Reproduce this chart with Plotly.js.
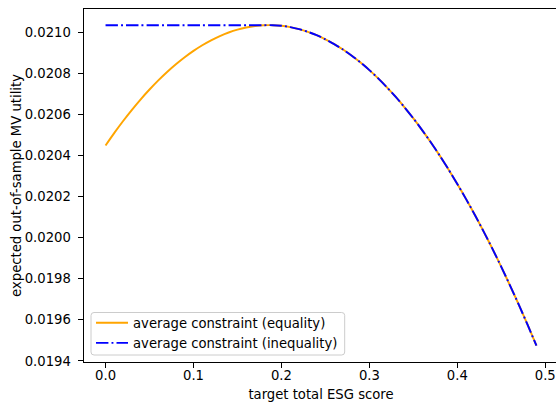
<!DOCTYPE html>
<html>
<head>
<meta charset="utf-8">
<script src="https://cdn.plot.ly/plotly-3.0.1.min.js"></script>
<style>
html,body{margin:0;padding:0;overflow:hidden;background:#fff;}
#chart{width:560px;height:402px;}
</style>
</head>
<body>
<div id="chart"></div>
<script>
// target total ESG score
const esgTarget = [0.00,0.01,0.02,0.03,0.04,0.05,0.06,0.07,0.08,0.09,
  0.10,0.11,0.12,0.13,0.14,0.15,0.16,0.17,0.18,0.19,
  0.20,0.21,0.22,0.23,0.24,0.25,0.26,0.27,0.28,0.29,
  0.30,0.31,0.32,0.33,0.34,0.35,0.36,0.37,0.38,0.39,
  0.40,0.41,0.42,0.43,0.44,0.45,0.46,0.47,0.48,0.49];

// expected out-of-sample MV utility, average constraint (equality)
const utilityEquality = [0.020449,0.0205103,0.0205682,0.0206227,0.0206738,0.0207215,0.0207659,0.0208068,0.0208444,0.0208786,
  0.0209095,0.0209369,0.0209610,0.0209817,0.0209990,0.0210129,0.0210234,0.0210306,0.0210344,0.0210348,
  0.0210318,0.0210254,0.0210156,0.0210025,0.0209860,0.0209661,0.0209428,0.0209161,0.0208861,0.0208527,
  0.0208159,0.0207757,0.0207321,0.0206852,0.0206348,0.0205811,0.0205240,0.0204635,0.0203997,0.0203324,
  0.0202618,0.0201878,0.0201104,0.0200296,0.0199455,0.0198579,0.0197670,0.0196727,0.0195750,0.0194740];

// expected out-of-sample MV utility, average constraint (inequality)
const utilityInequality = [0.0210348,0.0210348,0.0210348,0.0210348,0.0210348,0.0210348,0.0210348,0.0210348,0.0210348,0.0210348,
  0.0210348,0.0210348,0.0210348,0.0210348,0.0210348,0.0210348,0.0210348,0.0210348,0.0210348,0.0210348,
  0.0210318,0.0210254,0.0210156,0.0210025,0.0209860,0.0209661,0.0209428,0.0209161,0.0208861,0.0208527,
  0.0208159,0.0207757,0.0207321,0.0206852,0.0206348,0.0205811,0.0205240,0.0204635,0.0203997,0.0203324,
  0.0202618,0.0201878,0.0201104,0.0200296,0.0199455,0.0198579,0.0197670,0.0196727,0.0195750,0.0194740];

const xTickVals = [0.0,0.1,0.2,0.3,0.4,0.5];
const xTickText = ['0.0','0.1','0.2','0.3','0.4','0.5'];
const yTickVals = [0.0194,0.0196,0.0198,0.0200,0.0202,0.0204,0.0206,0.0208,0.0210];
const yTickText = ['0.0194','0.0196','0.0198','0.0200','0.0202','0.0204','0.0206','0.0208','0.0210'];

const FONT = 'DejaVu Sans, sans-serif';
const FS = 13.2;

const traces = [
  {x: esgTarget, y: utilityEquality, type: 'scatter', mode: 'lines',
   name: 'average constraint (equality)',
   line: {color: '#FFA500', width: 1.95, shape: 'spline', smoothing: 0.6}},
  {x: esgTarget, y: utilityInequality, type: 'scatter', mode: 'lines',
   name: 'average constraint (inequality)',
   line: {color: '#0000FF', width: 1.95, dash: '12.4px,3.1px,1.9px,3.1px', shape: 'spline', smoothing: 0.6}}
];

const axisCommon = {
  showgrid: false, zeroline: false, showline: true, mirror: true,
  linecolor: '#000', linewidth: 1.03,
  ticks: 'outside', ticklen: 4.5, tickwidth: 1.03, tickcolor: '#000',
  tickfont: {family: FONT, size: FS, color: '#000'},
  tickmode: 'array'
};

// rounded legend frame (paper coordinates of plot area)
const lx0 = 0.0148, lx1 = 0.5500, ly0 = 0.0198, ly1 = 0.1402, rx = 0.0063, ry = 0.0085;
const legendFrame = `M${lx0+rx},${ly0} L${lx1-rx},${ly0} Q${lx1},${ly0} ${lx1},${ly0+ry} L${lx1},${ly1-ry} Q${lx1},${ly1} ${lx1-rx},${ly1} L${lx0+rx},${ly1} Q${lx0},${ly1} ${lx0},${ly1-ry} L${lx0},${ly0+ry} Q${lx0},${ly0} ${lx0+rx},${ly0} Z`;

const layout = {
  width: 560, height: 402,
  margin: {l: 84, r: 1.5, t: 9, b: 40, pad: 0},
  paper_bgcolor: '#fff', plot_bgcolor: '#fff',
  font: {family: FONT, size: FS, color: '#000'},
  showlegend: true,
  xaxis: Object.assign({}, axisCommon, {
    range: [-0.0245, 0.5145],
    tickvals: xTickVals, ticktext: xTickText,
    ticklabelstandoff: -3,
    title: {text: 'target total ESG score', font: {family: FONT, size: FS, color: '#000'}, standoff: 8}
  }),
  yaxis: Object.assign({}, axisCommon, {
    range: [0.0193947, 0.0211135],
    tickvals: yTickVals, ticktext: yTickText,
    ticklabelstandoff: 5,
    title: {text: 'expected out-of-sample MV utility', font: {family: FONT, size: FS, color: '#000'}, standoff: 0}
  }),
  shapes: [
    {type: 'path', xref: 'paper', yref: 'paper', layer: 'above', path: legendFrame,
     fillcolor: 'rgba(255,255,255,0.8)', line: {color: '#cccccc', width: 1}}
  ],
  legend: {
    x: 0.0148, y: 0.0095, xanchor: 'left', yanchor: 'bottom',
    bgcolor: 'rgba(0,0,0,0)', borderwidth: 0,
    itemwidth: 32,
    font: {family: FONT, size: FS, color: '#000'},
    tracegroupgap: 0
  }
};

Plotly.newPlot('chart', traces, layout, {displayModeBar: false, staticPlot: true});
</script>
</body>
</html>
